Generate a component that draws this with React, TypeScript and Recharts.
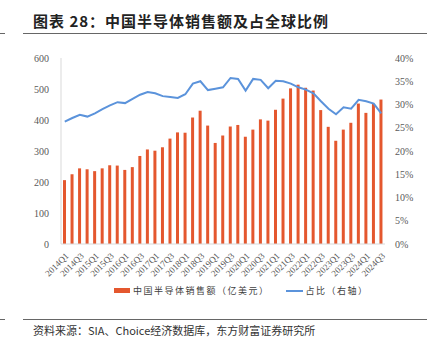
import React from 'react';
import { ComposedChart, Bar, Line, XAxis, YAxis } from 'recharts';

const quarters = [
  '2014Q1', '2014Q2', '2014Q3', '2014Q4',
  '2015Q1', '2015Q2', '2015Q3', '2015Q4',
  '2016Q1', '2016Q2', '2016Q3', '2016Q4',
  '2017Q1', '2017Q2', '2017Q3', '2017Q4',
  '2018Q1', '2018Q2', '2018Q3', '2018Q4',
  '2019Q1', '2019Q2', '2019Q3', '2019Q4',
  '2020Q1', '2020Q2', '2020Q3', '2020Q4',
  '2021Q1', '2021Q2', '2021Q3', '2021Q4',
  '2022Q1', '2022Q2', '2022Q3', '2022Q4',
  '2023Q1', '2023Q2', '2023Q3', '2023Q4',
  '2024Q1', '2024Q2', '2024Q3',
];

// 中国半导体销售额（亿美元）
const sales = [
  206, 225, 244, 241, 235, 244, 254, 253, 239, 248, 284, 305,
  301, 312, 340, 360, 359, 408, 430, 382, 326, 350, 379, 384,
  346, 369, 402, 398, 433, 469, 502, 514, 504, 495, 432, 378,
  333, 369, 391, 453, 423, 452, 466,
];

// 占全球比例（%）
const share = [
  26.3, 27.1, 27.8, 27.4, 28.1, 29.0, 29.8, 30.5, 30.3, 31.2, 32.1, 32.7,
  32.4, 31.8, 31.6, 31.4, 32.2, 34.5, 35.0, 33.1, 33.4, 33.7, 35.7, 35.5,
  33.0, 35.5, 35.3, 33.5, 35.1, 35.0, 34.5, 33.7, 33.2, 32.4, 30.7, 29.1,
  27.9, 29.4, 29.1, 31.0, 30.7, 30.2, 28.1,
];

const leftTicks = [0, 100, 200, 300, 400, 500, 600];
const rightTicks = [0, 5, 10, 15, 20, 25, 30, 35, 40];

const data = quarters.map((q, i) => ({ q, sales: sales[i], share: share[i] }));

const BAR = '#E4572E';
const LINE = '#5B93DB';
const serif = '"Liberation Serif", "DejaVu Serif", serif';
const cjk = '"Noto Sans CJK SC", sans-serif';

export default function App() {
  return (
    <div style={{ position: 'absolute', left: 0, top: 0, width: 427, height: 352, background: '#fff', overflow: 'hidden' }}>
      <div style={{ position: 'absolute', left: 33, top: 10, fontFamily: cjk, fontWeight: 700, fontSize: 15, color: '#222', letterSpacing: 1 }}>
        图表 28：中国半导体销售额及占全球比例
      </div>
      <div style={{ position: 'absolute', left: 0, top: 33, width: 5, borderTop: '1px solid #666' }} />
      <div style={{ position: 'absolute', left: 23, top: 33, width: 404, borderTop: '1px solid #666' }} />

      <div style={{ position: 'absolute', left: 0, top: 0 }}>
        <ComposedChart width={427} height={300} data={data} margin={{ top: 58, right: 8, bottom: 0, left: 16 }}>
          <XAxis
            dataKey="q"
            interval={1}
            height={56}
            axisLine={{ stroke: '#d9d9d9' }}
            tickLine={false}
            tick={{ fontSize: 9, fontFamily: serif, fill: '#595959', angle: -45, textAnchor: 'end' } as any}
            tickMargin={2}
          />
          <YAxis
            yAxisId="left"
            domain={[0, 600]}
            ticks={leftTicks}
            width={45}
            axisLine={{ stroke: '#d9d9d9' }}
            tickLine={false}
            tickMargin={6}
            tick={{ fontSize: 10, fontFamily: serif, fill: '#595959' }}
          />
          <YAxis
            yAxisId="right"
            orientation="right"
            domain={[0, 40]}
            ticks={rightTicks}
            tickFormatter={(v: number) => `${v}%`}
            width={34}
            axisLine={false}
            tickLine={false}
            tickMargin={4}
            tick={{ fontSize: 10, fontFamily: serif, fill: '#595959', textAnchor: 'start' } as any}
          />
          <Bar yAxisId="left" dataKey="sales" fill={BAR} barSize={3} isAnimationActive={false} />
          <Line yAxisId="right" dataKey="share" stroke={LINE} strokeWidth={2} dot={false} type="linear" isAnimationActive={false} />
        </ComposedChart>
      </div>

      <div style={{ position: 'absolute', left: 114, top: 284, display: 'flex', alignItems: 'center', fontFamily: cjk, fontSize: 9, color: '#404040' }}>
        <span style={{ display: 'inline-block', width: 16, height: 5, background: BAR, marginRight: 3 }} />
        <span style={{ letterSpacing: 1.5 }}>中国半导体销售额（亿美元）</span>
        <span style={{ display: 'inline-block', width: 17, height: 2, background: LINE, marginLeft: 16, marginRight: 3 }} />
        <span style={{ letterSpacing: 1.5 }}>占比（右轴）</span>
      </div>

      <div style={{ position: 'absolute', left: 0, top: 319, width: 5, borderTop: '1px solid #666' }} />
      <div style={{ position: 'absolute', left: 23, top: 319, width: 404, borderTop: '1px solid #666' }} />
      <div style={{ position: 'absolute', left: 33, top: 322, fontFamily: cjk, fontSize: 11, color: '#333' }}>
        资料来源：SIA、Choice经济数据库，东方财富证券研究所
      </div>
    </div>
  );
}
